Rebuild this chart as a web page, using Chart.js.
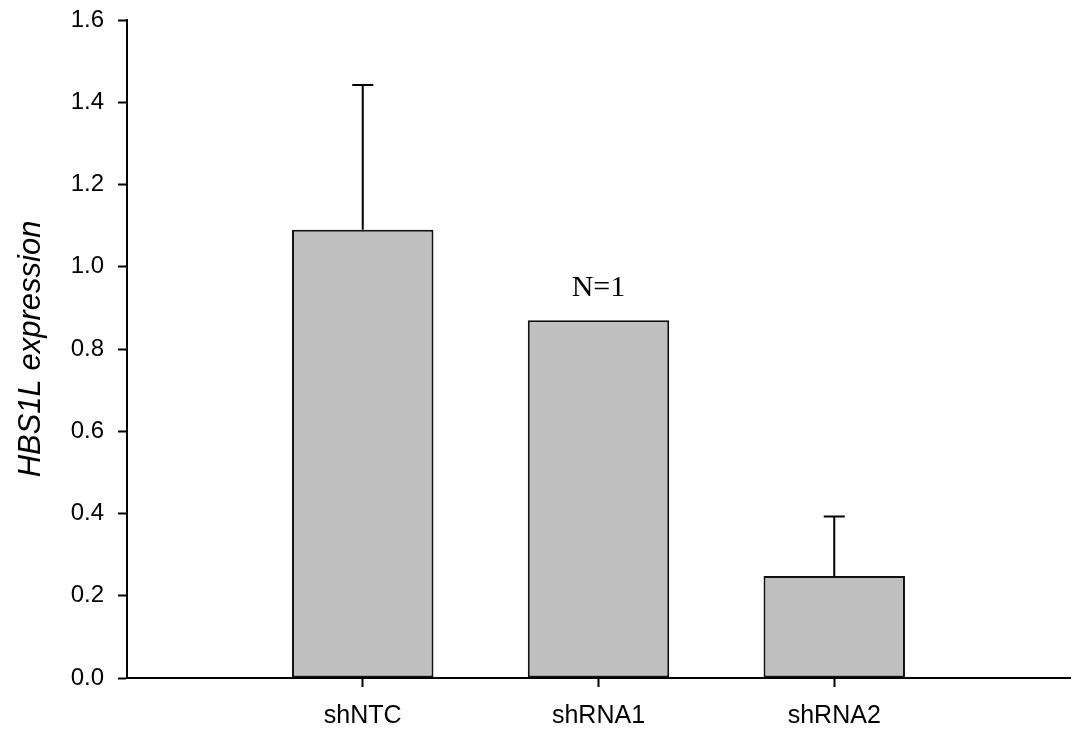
<!DOCTYPE html>
<html>
<head>
<meta charset="utf-8">
<script src="https://cdn.jsdelivr.net/npm/chart.js@4/dist/chart.umd.min.js"></script>
<style>
  html, body { margin: 0; padding: 0; background: #ffffff; }
  #wrap { width: 1077px; height: 732px; position: relative; }
</style>
</head>
<body>
<div id="wrap"><canvas id="chart"></canvas></div>
<script>
// Relative HBS1L expression per construct
const categories = ['shNTC', 'shRNA1', 'shRNA2'];
const means = [1.09, 0.87, 0.248];
const errors = [0.352, 0, 0.145];
const annotations = ['', 'N=1', ''];
const yTicks = [0, 0.2, 0.4, 0.6, 0.8, 1.0, 1.2, 1.4, 1.6];

const SANS = "'Liberation Sans', Arial, Helvetica, sans-serif";
const SERIF = "'Liberation Serif', 'Times New Roman', serif";

const barPoints = means.map((v, i) => ({ x: i + 1, y: v }));

// Upward error bars with caps, plus text annotations above bars
const errorBarPlugin = {
  id: 'errorBars',
  afterDatasetsDraw(chart) {
    const { ctx, scales: { x, y } } = chart;
    ctx.save();
    ctx.strokeStyle = '#000';
    ctx.lineWidth = 2;
    ctx.lineCap = 'butt';
    means.forEach((m, i) => {
      const err = errors[i];
      if (!err) return;
      const px = x.getPixelForValue(i + 1);
      const yBase = y.getPixelForValue(m);
      const yTop = y.getPixelForValue(m + err);
      ctx.beginPath();
      ctx.moveTo(px, yBase);
      ctx.lineTo(px, yTop);
      ctx.moveTo(px - 10.5, yTop);
      ctx.lineTo(px + 10.5, yTop);
      ctx.stroke();
    });
    ctx.fillStyle = '#000';
    ctx.font = '30px ' + SERIF;
    ctx.textAlign = 'center';
    ctx.textBaseline = 'alphabetic';
    annotations.forEach((t, i) => {
      if (!t) return;
      const px = x.getPixelForValue(i + 1);
      const yTop = y.getPixelForValue(means[i] + errors[i]);
      ctx.fillText(t, px, yTop - 24);
    });
    ctx.restore();
  }
};

new Chart(document.getElementById('chart'), {
  type: 'bar',
  data: {
    datasets: [{
      data: barPoints,
      backgroundColor: '#c0c0c0',
      borderColor: '#111111',
      borderWidth: 2,
      borderSkipped: false,
      barPercentage: 0.6,
      categoryPercentage: 1.0
    }]
  },
  options: {
    responsive: true,
    maintainAspectRatio: false,
    animation: false,
    layout: { padding: { top: 20, right: 7, left: 0, bottom: 0 } },
    plugins: {
      legend: { display: false },
      tooltip: { enabled: false }
    },
    scales: {
      x: {
        type: 'linear',
        min: 0,
        max: 4,
        offset: false,
        afterBuildTicks(scale) {
          scale.ticks = categories.map((c, i) => ({ value: i + 1 }));
        },
        afterFit(scale) {
          scale.height = 54;
          scale.paddingLeft = 0;
          scale.paddingRight = 0;
        },
        ticks: {
          autoSkip: false,
          maxRotation: 0,
          color: '#000',
          font: { family: SANS, size: 25 },
          padding: 14,
          callback: (v) => categories[v - 1] ?? ''
        },
        grid: {
          offset: false,
          drawOnChartArea: false,
          drawTicks: true,
          tickLength: 9,
          tickWidth: 2,
          tickColor: '#000'
        },
        border: { display: true, color: '#000', width: 2 }
      },
      y: {
        min: 0,
        max: 1.6,
        afterBuildTicks(scale) {
          scale.ticks = yTicks.map(v => ({ value: v }));
        },
        afterFit(scale) {
          scale.width = 127;
          scale.paddingTop = 0;
          scale.paddingBottom = 0;
        },
        ticks: {
          color: '#000',
          font: { family: SANS, size: 24 },
          padding: 14,
          callback: (v) => Number(v).toFixed(1)
        },
        grid: {
          drawOnChartArea: false,
          drawTicks: true,
          tickLength: 9,
          tickWidth: 2,
          tickColor: '#000'
        },
        border: { display: true, color: '#000', width: 2 },
        title: {
          display: true,
          text: 'HBS1L expression',
          color: '#000',
          font: { family: SANS, size: 31, style: 'italic' },
          padding: { top: 13, bottom: 0 }
        }
      }
    }
  },
  plugins: [errorBarPlugin]
});
</script>
</body>
</html>
